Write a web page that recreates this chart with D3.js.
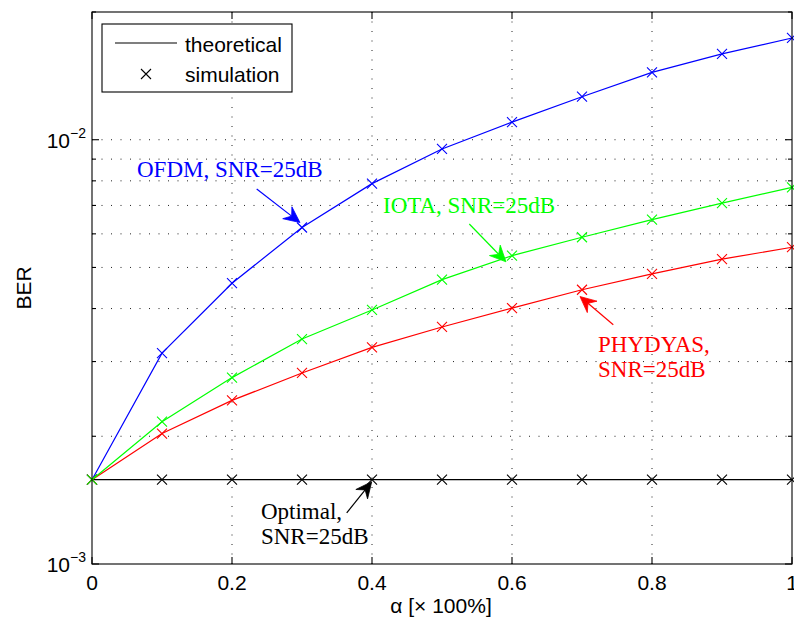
<!DOCTYPE html>
<html>
<head>
<meta charset="utf-8">
<script src="https://cdn.jsdelivr.net/npm/d3@7"></script>
<style>
  html, body { margin: 0; padding: 0; background: #fff; }
  svg { display: block; }
</style>
</head>
<body>
<svg id="chart" width="794" height="623"></svg>
<script>
// ---------------- data ----------------
const alpha   = [0, 0.1, 0.2, 0.3, 0.4, 0.5, 0.6, 0.7, 0.8, 0.9, 1.0];
const ofdm    = [1.58e-3, 3.14e-3, 4.59e-3, 6.21e-3, 7.88e-3, 9.51e-3, 1.10e-2, 1.263e-2, 1.441e-2, 1.594e-2, 1.737e-2];
const phydyas = [1.58e-3, 2.03e-3, 2.43e-3, 2.82e-3, 3.24e-3, 3.62e-3, 4.01e-3, 4.43e-3, 4.83e-3, 5.23e-3, 5.58e-3];
const iota    = [1.58e-3, 2.165e-3, 2.75e-3, 3.39e-3, 3.97e-3, 4.68e-3, 5.33e-3, 5.89e-3, 6.48e-3, 7.09e-3, 7.72e-3];
const optimal = [1.58e-3, 1.58e-3, 1.58e-3, 1.58e-3, 1.58e-3, 1.58e-3, 1.58e-3, 1.58e-3, 1.58e-3, 1.58e-3, 1.58e-3];

const xTicks = [0, 0.2, 0.4, 0.6, 0.8, 1];
const xTickLabels = ["0", "0.2", "0.4", "0.6", "0.8", "1"];
const yMajor = [1e-3, 1e-2];
const yMajorExp = ["\u22123", "\u22122"];
const yMinor = [2e-3, 3e-3, 4e-3, 5e-3, 6e-3, 7e-3, 8e-3, 9e-3, 2e-2];

const legendLabels = ["theoretical", "simulation"];
const xLabel = "\u03B1 [\u00D7 100%]";
const yLabel = "BER";

// ---------------- layout ----------------
const W = 794, H = 623;
const L = 92, R = 792, T = 12, B = 564;
const sans = "'Liberation Sans', Arial, Helvetica, sans-serif";
const serif = "'Liberation Serif', 'Times New Roman', serif";

const x = d3.scaleLinear().domain([0, 1]).range([L, R]);
const y = d3.scaleLog().domain([1e-3, 2e-2]).range([B, T]);

const svg = d3.select("#chart");

// ---------------- grid ----------------
const grid = svg.append("g")
  .attr("stroke", "#222").attr("stroke-width", 1)
  .attr("stroke-dasharray", "1,8.5").attr("fill", "none");
xTicks.filter(v => v > 0 && v < 1).forEach(v => {
  grid.append("line").attr("x1", x(v)).attr("x2", x(v)).attr("y1", B).attr("y2", T);
});
yMajor.concat(yMinor).filter(v => v > 1e-3 && v < 2e-2).forEach(v => {
  grid.append("line").attr("x1", L).attr("x2", R).attr("y1", y(v)).attr("y2", y(v));
});

// ---------------- series ----------------
const series = [
  { vals: optimal, color: "#000000" },
  { vals: ofdm,    color: "#0000ff" },
  { vals: phydyas, color: "#ff0000" },
  { vals: iota,    color: "#00ff00" }
];
const line = d3.line().x(d => x(d[0])).y(d => y(d[1]));
const xm = 5;
series.forEach(s => {
  const pts = alpha.map((a, i) => [a, s.vals[i]]);
  svg.append("path").datum(pts)
    .attr("d", line).attr("fill", "none")
    .attr("stroke", s.color).attr("stroke-width", 1.2);
  const g = svg.append("g").attr("stroke", s.color).attr("stroke-width", 1.1);
  pts.forEach(p => {
    const cx = x(p[0]), cy = y(p[1]);
    g.append("path").attr("d",
      `M${cx - xm},${cy - xm}L${cx + xm},${cy + xm}M${cx - xm},${cy + xm}L${cx + xm},${cy - xm}`);
  });
});

// ---------------- axes box & ticks ----------------
const ax = svg.append("g").attr("stroke", "#000").attr("stroke-width", 1.1).attr("fill", "none");
ax.append("rect").attr("x", L).attr("y", T).attr("width", R - L).attr("height", B - T);
const maj = 7, mnr = 4;
xTicks.forEach(v => {
  ax.append("line").attr("x1", x(v)).attr("x2", x(v)).attr("y1", B).attr("y2", B - maj);
  ax.append("line").attr("x1", x(v)).attr("x2", x(v)).attr("y1", T).attr("y2", T + maj);
});
yMajor.forEach(v => {
  ax.append("line").attr("x1", L).attr("x2", L + maj).attr("y1", y(v)).attr("y2", y(v));
  ax.append("line").attr("x1", R).attr("x2", R - maj).attr("y1", y(v)).attr("y2", y(v));
});
yMinor.forEach(v => {
  ax.append("line").attr("x1", L).attr("x2", L + mnr).attr("y1", y(v)).attr("y2", y(v));
  ax.append("line").attr("x1", R).attr("x2", R - mnr).attr("y1", y(v)).attr("y2", y(v));
});

// tick labels
xTicks.forEach((v, i) => {
  svg.append("text").attr("x", x(v)).attr("y", 590)
    .attr("text-anchor", "middle").attr("font-family", sans).attr("font-size", 21)
    .text(xTickLabels[i]);
});
yMajor.forEach((v, i) => {
  const t = svg.append("text").attr("x", 86).attr("y", y(v) + 8)
    .attr("text-anchor", "end").attr("font-family", sans).attr("font-size", 21);
  t.append("tspan").text("10");
  t.append("tspan").attr("dy", -10).attr("font-size", 14).text(yMajorExp[i]);
});

// axis labels
svg.append("text").attr("x", 441).attr("y", 613).attr("text-anchor", "middle")
  .attr("font-family", sans).attr("font-size", 21).text(xLabel);
svg.append("text").attr("transform", `translate(30.5,${(T + B) / 2}) rotate(-90)`)
  .attr("text-anchor", "middle").attr("font-family", sans).attr("font-size", 21).text(yLabel);

// ---------------- annotations ----------------
const annotations = [
  { color: "#0000ff", lines: ["OFDM, SNR=25dB"], tx: 0.0643, ty: [8.18e-3],
    tail: [0.2353, 7.65e-3], tip: [0.2971, 6.38e-3] },
  { color: "#00ff00", lines: ["IOTA, SNR=25dB"], tx: 0.4157, ty: [6.73e-3],
    tail: [0.539, 6.33e-3], tip: [0.5914, 5.155e-3] },
  { color: "#ff0000", lines: ["PHYDYAS,", "SNR=25dB"], tx: 0.7229, ty: [3.167e-3, 2.765e-3],
    tail: [0.7447, 3.662e-3], tip: [0.6971, 4.27e-3] },
  { color: "#000000", lines: ["Optimal,", "SNR=25dB"], tx: 0.2414, ty: [1.277e-3, 1.115e-3],
    tail: [0.3639, 1.32e-3], tip: [0.3996, 1.563e-3] }
];
annotations.forEach(a => {
  a.lines.forEach((s, i) => {
    svg.append("text").attr("x", x(a.tx)).attr("y", y(a.ty[i]))
      .attr("font-family", serif).attr("font-size", 23).attr("fill", a.color).text(s);
  });
  const x0 = x(a.tail[0]), y0 = y(a.tail[1]), x1 = x(a.tip[0]), y1 = y(a.tip[1]);
  const len = Math.hypot(x1 - x0, y1 - y0);
  const ux = (x1 - x0) / len, uy = (y1 - y0) / len;
  const px = -uy, py = ux;
  const hl = 16, hw = 7.5, nd = 10.5;
  const nx = x1 - nd * ux, ny = y1 - nd * uy;
  svg.append("line").attr("x1", x0).attr("y1", y0).attr("x2", nx).attr("y2", ny)
    .attr("stroke", a.color).attr("stroke-width", 1.2);
  const c1 = [x1 - hl * ux + hw * px, y1 - hl * uy + hw * py];
  const c2 = [x1 - hl * ux - hw * px, y1 - hl * uy - hw * py];
  svg.append("path")
    .attr("d", `M${x1},${y1}L${c1[0]},${c1[1]}L${nx},${ny}L${c2[0]},${c2[1]}Z`)
    .attr("fill", a.color).attr("stroke", a.color).attr("stroke-width", 0.8);
});

// ---------------- legend ----------------
const lg = svg.append("g");
lg.append("rect").attr("x", 102).attr("y", 24).attr("width", 190).attr("height", 68)
  .attr("fill", "#fff").attr("stroke", "#000").attr("stroke-width", 1.1);
lg.append("line").attr("x1", 115).attr("x2", 177).attr("y1", 43).attr("y2", 43)
  .attr("stroke", "#000").attr("stroke-width", 1.2);
lg.append("path").attr("d", `M${146 - xm},${74 - xm}L${146 + xm},${74 + xm}M${146 - xm},${74 + xm}L${146 + xm},${74 - xm}`)
  .attr("stroke", "#000").attr("stroke-width", 1.1);
lg.append("text").attr("x", 185).attr("y", 51.5).attr("font-family", sans).attr("font-size", 21).text(legendLabels[0]);
lg.append("text").attr("x", 185).attr("y", 81.5).attr("font-family", sans).attr("font-size", 21).text(legendLabels[1]);
</script>
</body>
</html>
